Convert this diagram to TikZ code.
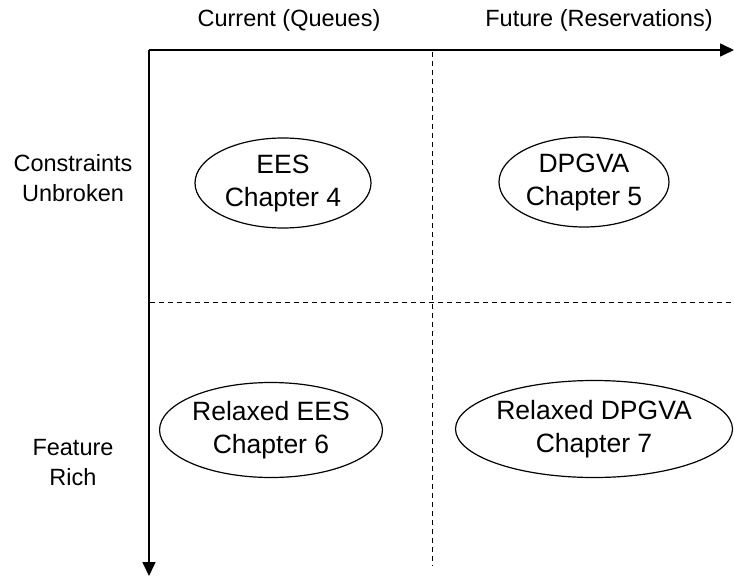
\documentclass[tikz,border=0pt]{standalone}
\usepackage{fontspec}
\setmainfont{Liberation Sans}
\usetikzlibrary{shapes.geometric,arrows.meta}
\tikzset{
  axis/.style={line width=1.6pt,-{Triangle[length=14pt,width=13pt]}},
  gridline/.style={line width=1pt,dash pattern=on 5pt off 4pt},
  chap/.style={ellipse,draw,line width=1.2pt,inner sep=0pt,align=center,font=\fontsize{26.5}{33}\selectfont},
  lbl/.style={align=center,inner sep=0pt,font=\fontsize{23.5}{30}\selectfont}
}
\begin{document}
\begin{tikzpicture}[x=1pt,y=-1pt]
\useasboundingbox (0,0) rectangle (734,576);
\coordinate (o) at (149,50);
\coordinate (xe) at (734,50);
\coordinate (ye) at (149,576);
\coordinate (vt) at (432,52);
\coordinate (vb) at (432,566);
\coordinate (hl) at (150,302);
\coordinate (hr) at (734,302);
\draw[gridline] (vt) -- (vb);
\draw[gridline] (hl) -- (hr);
\draw[axis] (o) -- (xe);
\draw[axis] (o) -- (ye);
\node[lbl] (cur) at (289,20) {Current (Queues)};
\node[lbl] (fut) at (599,20) {Future (Reservations)};
\node[lbl] (cu) at (73,178) {Constraints\\Unbroken};
\node[lbl] (fr) at (73,463) {Feature\\Rich};
\node[chap,minimum width=176pt,minimum height=90pt] (ees) at (283,183) {EES\\Chapter 4};
\node[chap,minimum width=170pt,minimum height=90pt] (dpg) at (584,182) {DPGVA\\Chapter 5};
\node[chap,minimum width=196pt,minimum height=95pt] (rees) at (271,430) {Relaxed EES\\Chapter 6};
\node[chap,minimum width=277pt,minimum height=97pt] (rdpg) at (594,429) {Relaxed DPGVA\\Chapter 7};
\end{tikzpicture}
\end{document}
